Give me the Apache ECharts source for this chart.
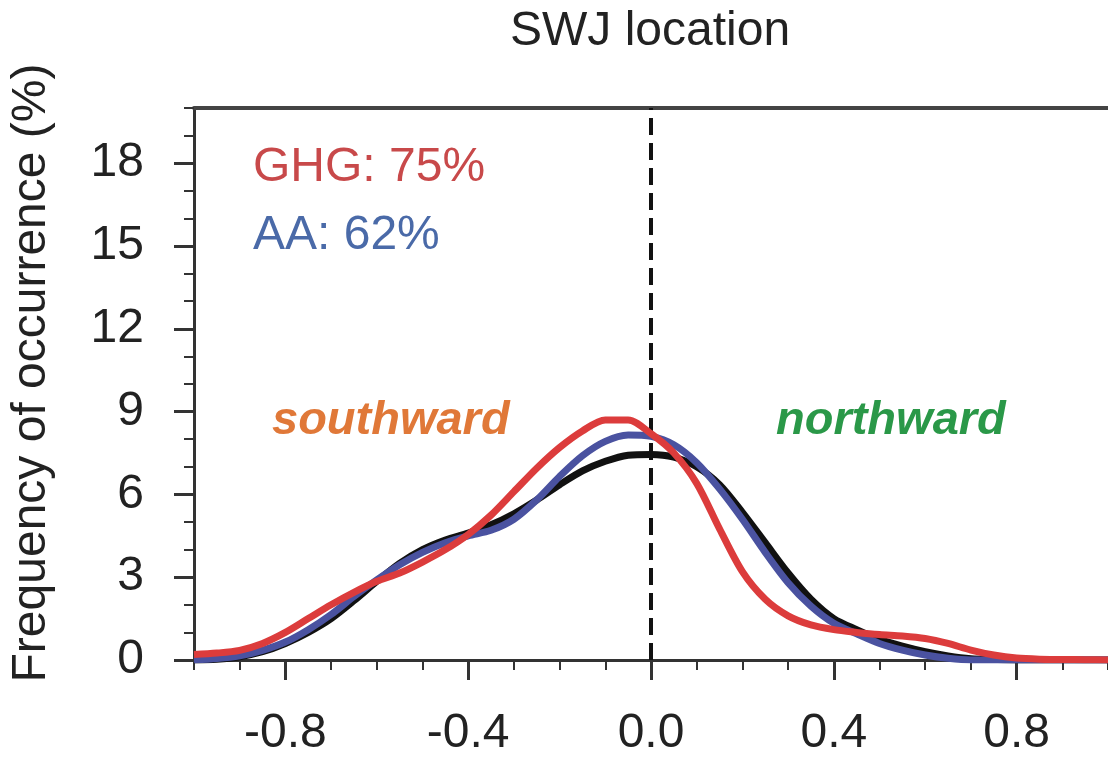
<!DOCTYPE html>
<html>
<head>
<meta charset="utf-8">
<script src="https://cdn.jsdelivr.net/npm/echarts@6/dist/echarts.min.js"></script>
<style>
html,body{margin:0;padding:0;background:#fff;}
#chart{width:1108px;height:762px;}
</style>
</head>
<body>
<div id="chart"></div>
<script>
// ---- data ----
var xValues = [-1.00,-0.95,-0.90,-0.85,-0.80,-0.75,-0.70,-0.65,-0.60,-0.55,-0.50,-0.45,-0.40,-0.35,-0.30,-0.25,-0.20,-0.15,-0.10,-0.05,0.00,0.05,0.10,0.15,0.20,0.25,0.30,0.35,0.40,0.45,0.50,0.55,0.60,0.65,0.70,0.75,0.80,0.85,0.90,0.95,1.00];
var ctrlValues = [0.0,0.03,0.12,0.3,0.6,1.0,1.5,2.15,2.85,3.5,4.0,4.35,4.6,4.9,5.3,5.8,6.35,6.85,7.2,7.42,7.45,7.35,7.0,6.35,5.35,4.25,3.15,2.2,1.5,1.1,0.75,0.5,0.3,0.15,0.05,0.02,0.0,0.0,0.0,0.0,0.0];
var aaValues = [0.0,0.05,0.15,0.35,0.65,1.1,1.65,2.3,2.9,3.45,3.9,4.25,4.5,4.7,5.1,5.8,6.65,7.4,7.92,8.15,8.1,7.8,7.15,6.2,5.1,3.9,2.8,1.95,1.33,0.95,0.6,0.36,0.18,0.06,0.0,0.0,0.0,0.0,0.0,0.0,0.0];
var ghgValues = [0.2,0.25,0.35,0.6,1.0,1.5,2.0,2.45,2.85,3.15,3.55,4.0,4.55,5.25,6.1,6.95,7.7,8.3,8.7,8.7,8.2,7.5,6.4,4.75,3.2,2.2,1.6,1.27,1.1,1.0,0.92,0.87,0.78,0.6,0.36,0.18,0.07,0.03,0.02,0.01,0.0];
var xTickLabels = [-0.8,-0.4,0.0,0.4,0.8];
var xMinorTicks = [-1.0,-0.9,-0.8,-0.7,-0.6,-0.5,-0.4,-0.3,-0.2,-0.1,0.0,0.1,0.2,0.3,0.4,0.5,0.6,0.7,0.8,0.9,1.0];
var yTickLabels = [0,3,6,9,12,15,18];
var yMinorTicks = [0,1,2,3,4,5,6,7,8,9,10,11,12,13,14,15,16,17,18,19,20];
var titleText = 'SWJ location';
var yAxisName = 'Frequency of occurrence (%)';
var ghgLabel = 'GHG: 75%';
var aaLabel = 'AA: 62%';
var southLabel = 'southward';
var northLabel = 'northward';

function pairs(xs, ys){ return xs.map(function(x,i){ return [x, ys[i]]; }); }

var FONT = '"Liberation Sans", Arial, Helvetica, sans-serif';
var axisColor = '#333';

var chart = echarts.init(document.getElementById('chart'), null, {renderer:'canvas'});
chart.setOption({
  backgroundColor: '#fff',
  animation: false,
  grid: {left: 194, right: -4, top: 108, bottom: 102, containLabel: false},
  xAxis: [
    {
      type: 'value', min: -1, max: 1, position: 'bottom',
      axisLine: {show: true, onZero: false, lineStyle: {color: axisColor, width: 3}},
      axisTick: {show: true, customValues: xTickLabels, length: 20, lineStyle: {color: axisColor, width: 3}},
      axisLabel: {show: true, customValues: xTickLabels, margin: 50, fontFamily: FONT, fontSize: 48, color: '#222',
        formatter: function(v){ return v.toFixed(1); }},
      splitLine: {show: false}
    },
    {
      type: 'value', min: -1, max: 1, position: 'bottom',
      axisLine: {show: false, onZero: false},
      axisTick: {show: true, customValues: xMinorTicks, length: 10, lineStyle: {color: axisColor, width: 2}},
      axisLabel: {show: false},
      splitLine: {show: false}
    },
    {
      type: 'value', min: -1, max: 1, position: 'top',
      axisLine: {show: true, onZero: false, lineStyle: {color: '#444', width: 4}},
      axisTick: {show: false}, axisLabel: {show: false}, splitLine: {show: false}
    }
  ],
  yAxis: [
    {
      type: 'value', min: 0, max: 20, position: 'left',
      name: yAxisName, nameLocation: 'middle', nameRotate: 90, nameGap: 138,
      nameTextStyle: {fontFamily: FONT, fontSize: 48, color: '#222', padding: [0, 0, 0, 22]},
      axisLine: {show: true, onZero: false, lineStyle: {color: axisColor, width: 3}},
      axisTick: {show: true, customValues: yTickLabels, length: 20, lineStyle: {color: axisColor, width: 3}},
      axisLabel: {show: true, customValues: yTickLabels, margin: 50, fontFamily: FONT, fontSize: 48, color: '#222'},
      splitLine: {show: false}
    },
    {
      type: 'value', min: 0, max: 20, position: 'left',
      axisLine: {show: false, onZero: false},
      axisTick: {show: true, customValues: yMinorTicks, length: 10, lineStyle: {color: axisColor, width: 2}},
      axisLabel: {show: false},
      splitLine: {show: false}
    }
  ],
  series: [
    {
      name: 'CTRL', type: 'line', data: pairs(xValues, ctrlValues), smooth: 0.3,
      symbol: 'none', lineStyle: {color: '#111', width: 7}, z: 3,
      markLine: {
        silent: true, symbol: 'none', label: {show: false},
        lineStyle: {color: '#111', width: 4, type: [17, 8]},
        data: [{xAxis: 0}]
      }
    },
    {
      name: 'AA', type: 'line', data: pairs(xValues, aaValues), smooth: 0.3,
      symbol: 'none', lineStyle: {color: '#4a52a0', width: 7}, z: 4
    },
    {
      name: 'GHG', type: 'line', data: pairs(xValues, ghgValues), smooth: 0.3,
      symbol: 'none', lineStyle: {color: '#dc3c3c', width: 7}, z: 5
    }
  ],
  graphic: [
    {type: 'text', left: 510, top: 8, style: {text: titleText, font: '48px ' + FONT, fill: '#222'}},
    {type: 'text', left: 253, top: 144, style: {text: ghgLabel, font: '48px ' + FONT, fill: '#c8494a'}},
    {type: 'text', left: 253, top: 212, style: {text: aaLabel, font: '48px ' + FONT, fill: '#4a6aa8'}},
    {type: 'text', left: 272, top: 398, style: {text: southLabel, font: 'italic bold 47px ' + FONT, fill: '#e07838'}},
    {type: 'text', left: 776, top: 398, style: {text: northLabel, font: 'italic bold 47px ' + FONT, fill: '#2a9848'}}
  ]
});
</script>
</body>
</html>
